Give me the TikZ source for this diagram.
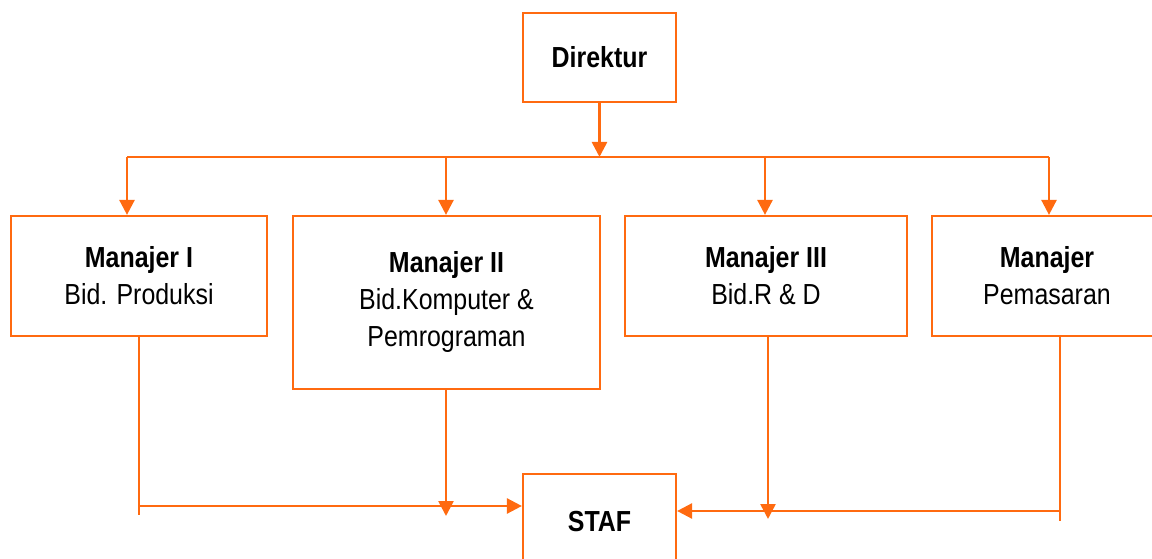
\documentclass[tikz,border=0pt]{standalone}
\usepackage{fontspec}
\setmainfont{Liberation Sans}[FakeStretch=0.86]
\usetikzlibrary{arrows.meta}
\definecolor{org}{HTML}{FF6A10}
\tikzset{
  box/.style={draw=org, line width=2.2pt, align=center, inner sep=0pt,
    font=\fontsize{29}{37}\selectfont},
  conn/.style={draw=org, line width=2.6pt},
  arr/.style={conn, -{Triangle[width=15pt,length=15pt]}}
}
\begin{document}
\begin{tikzpicture}[x=1pt,y=-1pt]
\useasboundingbox (0,0) rectangle (1152,559);
\node[box, minimum width=153pt, minimum height=89pt] (dir) at (599.5,57.5) {\textbf{Direktur}};
\node[box, minimum width=256pt, minimum height=120pt] (m1) at (139,276) {\textbf{Manajer I}\\Bid. Produksi};
\node[box, minimum width=307pt, minimum height=173pt] (m2) at (446.5,302.5) {\textbf{Manajer II}\\Bid.Komputer \&\\Pemrograman};
\node[box, minimum width=282pt, minimum height=120pt] (m3) at (766,276) {\textbf{Manajer III}\\Bid.R \& D};
\node[box, minimum width=230pt, minimum height=120pt] (m4) at (1047,276) {\textbf{Manajer}\\Pemasaran};
\node[box, minimum width=153pt, minimum height=96pt] (staf) at (599.5,522) {\textbf{STAF}};
% top bus
\coordinate (bj) at (599.5,157);
\coordinate (bl) at (127,157);
\coordinate (br) at (1049,157);
\coordinate (b2) at (446,157);
\coordinate (b3) at (765,157);
\draw[arr] (dir.south) -- (bj);
\draw[conn] (bl) -- (br);
\draw[arr] (bl) -- (bl |- m1.north);
\draw[arr] (b2) -- (b2 |- m2.north);
\draw[arr] (b3) -- (b3 |- m3.north);
\draw[arr] (br) -- (br |- m4.north);
% bottom
\coordinate (l1) at (139,515);
\coordinate (h1) at (139,506);
\coordinate (a2) at (446,516);
\coordinate (a3) at (768,519);
\coordinate (l4) at (1060,521);
\coordinate (h4) at (1060,511);
\draw[conn] (l1 |- m1.south) -- (l1);
\draw[arr] (h1) -- (staf.west |- h1);
\draw[arr] (a2 |- m2.south) -- (a2);
\draw[arr] (h4) -- (staf.east |- h4);
\draw[arr] (a3 |- m3.south) -- (a3);
\draw[conn, line width=2pt] (l4 |- m4.south) -- (l4);
\end{tikzpicture}
\end{document}
